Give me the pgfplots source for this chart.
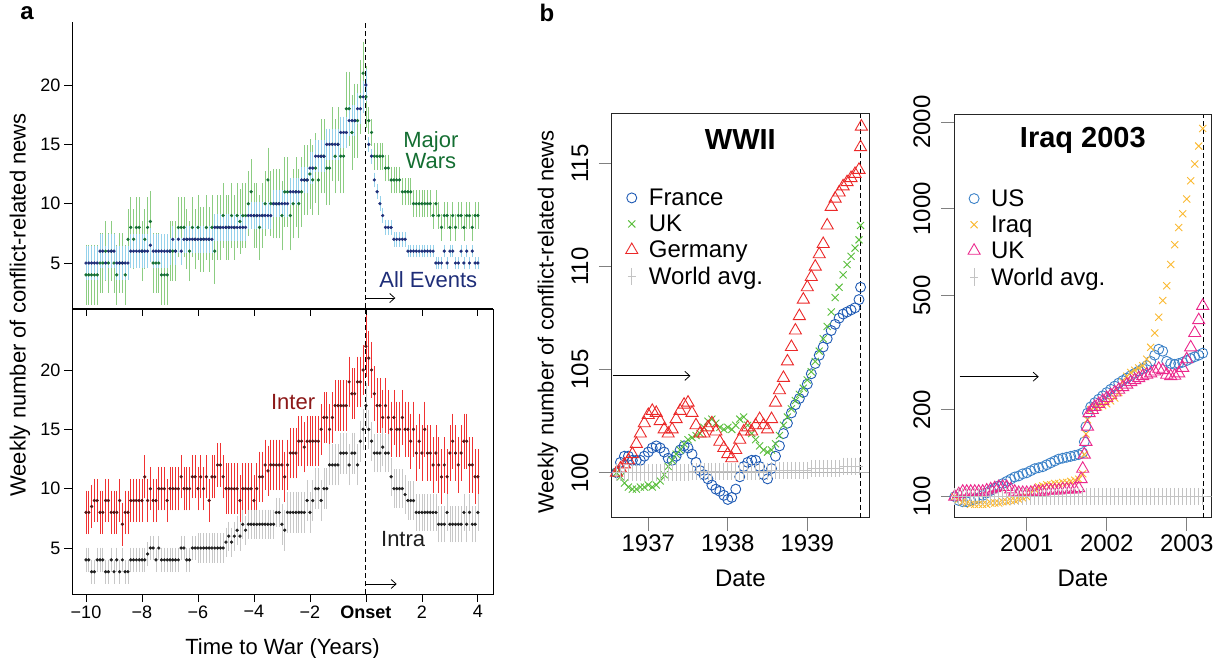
\documentclass[border=0pt]{standalone}
\usepackage{pgfplots}
\pgfplotsset{compat=1.18}
\usepackage{pgfplotstable}
\usepackage{fontspec}
\setmainfont{Liberation Sans}
\usetikzlibrary{arrows.meta}
\definecolor{dkgreen}{RGB}{20,110,50}
\definecolor{ltgreen}{RGB}{140,205,130}
\definecolor{navy}{RGB}{30,45,120}
\definecolor{ltblue}{RGB}{150,210,235}
\definecolor{redbar}{RGB}{240,50,50}
\definecolor{dkred}{RGB}{90,20,20}
\definecolor{intertxt}{RGB}{140,25,25}
\definecolor{greybar}{RGB}{200,200,200}
\definecolor{dotblack}{RGB}{30,30,30}
\definecolor{frblue}{RGB}{30,90,180}
\definecolor{ukgreen}{RGB}{90,190,60}
\definecolor{dered}{RGB}{235,40,40}
\definecolor{wgray}{RGB}{195,195,195}
\definecolor{usblue}{RGB}{60,130,200}
\definecolor{iqorange}{RGB}{250,185,50}
\definecolor{ukpink}{RGB}{235,40,140}
\newcommand{\fs}[1]{\fontsize{#1}{#1}\selectfont}

\pgfplotstableread{
t mw mwe ae aee
-10.0 4 2.4 5 1.3
-9.9 4 2.4 5 1.3
-9.8 4 2.4 5 1.3
-9.7 4 2.4 5 1.3
-9.6 4 2.4 5 1.3
-9.5 5 2.4 6 1.3
-9.4 5 2.4 6 1.3
-9.3 6 2.4 5 1.3
-9.2 5 2.4 6 1.3
-9.1 6 2.4 6 1.3
-9.0 5 2.4 6 1.3
-8.9 4 2.4 5 1.3
-8.8 5 2.4 5 1.3
-8.7 5 2.4 5 1.3
-8.6 4 2.4 5 1.3
-8.5 7 2.4 5 1.3
-8.4 8 2.4 6 1.3
-8.3 7 2.4 6 1.3
-8.2 8 2.4 6 1.3
-8.1 8 2.4 6 1.3
-8.0 6 2.4 6 1.3
-7.9 7 2.4 6 1.3
-7.8 8 2.4 6 1.3
-7.7 8.5 2.4 6.5 1.3
-7.6 5 2.4 6 1.3
-7.5 5 2.4 6 1.3
-7.4 5 2.4 6 1.3
-7.3 4 2.4 6 1.3
-7.2 4 2.4 6 1.3
-7.1 4 2.4 6 1.3
-7.0 6 2.4 6 1.0
-6.9 6 2.4 7 1.0
-6.8 6 2.4 6 1.0
-6.7 8 2.4 7 1.0
-6.6 8 2.4 6 1.0
-6.5 8 2.4 7 1.0
-6.4 7 2.4 7 1.0
-6.3 6 2.4 7 1.0
-6.2 8 2.4 7 1.0
-6.1 7 2.4 7 1.0
-6.0 8 2.6 7 1.0
-5.9 7 2.6 7 1.0
-5.8 7 2.6 7 1.0
-5.7 8 2.6 7 1.0
-5.6 7 2.6 7 1.0
-5.5 8 2.6 7 1.0
-5.4 6 2.6 8 1.0
-5.3 8 2.6 8 1.0
-5.2 8 2.6 8 1.0
-5.1 9 2.6 8 1.0
-5.0 8 2.6 8 1.0
-4.9 8 2.6 8 1.0
-4.8 9 2.6 8 1.0
-4.7 8 2.6 8 1.0
-4.6 9 2.6 8 1.0
-4.5 8.5 2.6 8 1.0
-4.4 9 2.6 8 1.0
-4.3 9 2.6 8 1.0
-4.2 10 2.6 9 1.0
-4.1 11 2.6 9 1.0
-4.0 9 2.6 9 1.0
-3.9 9 2.6 9 1.0
-3.8 8 2.6 9 1.0
-3.7 9 2.6 9 1.0
-3.6 10 2.6 9 1.0
-3.5 12 2.6 9 1.0
-3.4 10 2.6 9 1.0
-3.3 10 2.8 10 1.0
-3.2 10 2.8 10 1.0
-3.1 10 2.8 10 1.0
-3.0 9 2.8 10 1.0
-2.9 11 2.8 10 1.0
-2.8 11 2.8 10 1.0
-2.7 9 2.8 11 1.0
-2.6 10 2.8 11 1.0
-2.5 11 2.8 11 1.0
-2.4 10 2.8 11 1.0
-2.3 11 2.8 12 1.0
-2.2 12 2.8 12 1.0
-2.1 12 2.8 12 1.0
-2.0 12.5 2.8 13 1.2
-1.9 12 2.8 13 1.2
-1.8 13 2.8 14 1.2
-1.7 12 2.8 14 1.2
-1.6 14 3.0 14 1.2
-1.5 14 3.0 14 1.2
-1.4 13 3.0 15 1.2
-1.3 13 3.0 15 1.2
-1.2 15 3.0 15 1.2
-1.1 14 3.0 15 1.2
-1.0 15 3.0 15 1.2
-0.9 14 3.0 16 1.2
-0.8 14 3.0 16 1.2
-0.7 18 3.0 16 1.2
-0.6 18 3.0 17 1.2
-0.5 16 3.0 17 1.2
-0.4 17 3.0 17 1.2
-0.3 17 3.0 18 1.2
-0.2 19 3.0 18 1.2
-0.1 21 2.5 19 1.2
0.0 19 2.5 20 1.2
0.1 17 1.0 15 0.5
0.2 16 1.0 14 0.5
0.3 14 1.0 12 0.5
0.4 14 1.0 11 0.5
0.5 14 1.0 10 0.5
0.6 14 1.0 9 0.5
0.7 13 1.0 8 0.5
0.8 13 1.0 8 0.5
0.9 12 1.0 8 0.5
1.0 12 1.0 7 0.5
1.1 12 1.0 7 0.5
1.2 12 1.0 7 0.5
1.3 11 1.0 7 0.5
1.4 11 1.0 7 0.5
1.5 11 1.0 6 0.4
1.6 11 1.0 6 0.4
1.7 10 1.0 6 0.4
1.8 10 1.0 6 0.4
1.9 10 1.0 6 0.4
2.0 10 1.0 6 0.4
2.1 10 1.0 6 0.4
2.2 10 1.0 6 0.4
2.3 10 1.0 6 0.4
2.4 9 1.0 6 0.4
2.5 10 1.0 5 0.4
2.6 9 1.0 5 0.4
2.7 8 1.0 5 0.4
2.8 9 1.0 6 0.4
2.9 9 1.0 5 0.4
3.0 8 1.0 6 0.4
3.1 9 1.0 6 0.4
3.2 8 1.0 5 0.4
3.3 9 1.0 5 0.4
3.4 9 1.0 6 0.4
3.5 8 1.0 5 0.4
3.6 9 1.0 6 0.4
3.7 9 1.0 5 0.4
3.8 8 1.0 6 0.4
3.9 9 1.0 5 0.4
4.0 9 1.0 5 0.4
}\toptab

\pgfplotstableread{
t inter intere intra intrae
-10.0 8 1.7 4 0.9
-9.9 8 1.7 4 0.9
-9.8 8.5 1.7 3 0.9
-9.7 9 1.7 3 0.9
-9.6 9 1.7 4 0.9
-9.5 8 1.7 4 0.9
-9.4 8 1.7 4 0.9
-9.3 9 1.7 3 0.9
-9.2 9 1.7 3 0.9
-9.1 8 1.7 4 0.9
-9.0 8 1.7 3 0.9
-8.9 8 1.7 4 0.9
-8.8 9 1.7 3 0.9
-8.7 7 1.7 4 0.9
-8.6 8 1.7 3 0.9
-8.5 8 1.7 3 0.9
-8.4 9 1.7 4 0.9
-8.3 9 1.7 4 0.9
-8.2 9 1.7 4 0.9
-8.1 9 1.7 4 0.9
-8.0 9 1.7 4 0.9
-7.9 11 1.7 4 0.9
-7.8 9 1.7 4.5 0.9
-7.7 10 1.7 5 0.9
-7.6 9 1.7 5 0.9
-7.5 9 1.7 4 0.9
-7.4 10 1.7 5 0.9
-7.3 10 1.7 4 0.9
-7.2 10 1.7 4 0.9
-7.1 9 1.7 4 0.9
-7.0 10 1.7 4 0.9
-6.9 10 1.7 4 0.9
-6.8 10 1.7 4 0.9
-6.7 10 1.7 4 0.9
-6.6 11 1.7 5 0.9
-6.5 10 1.7 5 0.9
-6.4 10 1.7 4 0.9
-6.3 10 1.7 4 0.9
-6.2 11 1.7 5 0.9
-6.1 11 1.7 5 0.9
-6.0 10 1.7 5 1.1
-5.9 11 1.7 5 1.1
-5.8 10 1.7 5 1.1
-5.7 11 1.7 5 1.1
-5.6 9 1.7 5 1.1
-5.5 11 1.7 5 1.1
-5.4 11 1.7 5 1.1
-5.3 12 1.7 5 1.1
-5.2 12 1.7 5 1.1
-5.1 11 1.7 5 1.1
-5.0 10 2.0 5.5 1.1
-4.9 10 2.0 6 1.1
-4.8 10 2.0 5.5 1.1
-4.7 10 2.0 6 1.1
-4.6 10 2.0 6.5 1.1
-4.5 9 2.0 6 1.1
-4.4 10 2.0 7 1.1
-4.3 10 2.0 6.5 1.1
-4.2 10 2.0 7 1.1
-4.1 10 2.0 7 1.1
-4.0 9 2.0 7 1.1
-3.9 10 2.0 7 1.1
-3.8 11 2.0 7 1.1
-3.7 11 2.0 7 1.1
-3.6 12 2.0 7 1.1
-3.5 11.5 2.0 7 1.1
-3.4 12 2.0 7 1.1
-3.3 12 2.0 7 1.1
-3.2 12 2.0 8 1.1
-3.1 12 2.0 8 1.1
-3.0 12 2.0 7 1.6
-2.9 11 2.0 6.5 1.6
-2.8 12 2.0 8 1.6
-2.7 13 2.0 8 1.6
-2.6 13 2.0 8 1.6
-2.5 13 2.0 8 1.6
-2.4 14 2.0 8 1.6
-2.3 14 2.0 8 1.6
-2.2 13.5 2.0 8 1.6
-2.1 14 2.0 9 1.6
-2.0 14 2.0 8 1.6
-1.9 14 2.0 9 1.6
-1.8 14 2.0 10 1.6
-1.7 14 2.0 10 1.6
-1.6 15 2.0 9 1.6
-1.5 16 2.0 10 1.6
-1.4 16 2.0 10 1.6
-1.3 15 2.0 12 1.6
-1.2 16 2.0 12 1.6
-1.1 17 2.0 12 1.6
-1.0 17 2.0 12 1.6
-0.9 17 2.0 13 1.6
-0.8 17 2.0 13 1.6
-0.7 17 2.0 13 1.6
-0.6 19 2.0 12 1.6
-0.5 18 2.0 13 1.6
-0.4 18 2.0 13 1.6
-0.3 19 2.0 12 1.6
-0.2 19 2.0 14 1.6
-0.1 20 2.0 15 1.6
0.0 22 2.5 17 1.8
0.1 21 2.2 15 1.5
0.2 20 2.2 14 1.5
0.3 18 2.2 13 1.5
0.4 17 2.2 13 1.5
0.5 17 2.2 13 1.5
0.6 16 2.2 13.5 1.5
0.7 17 2.2 13 1.5
0.8 16 2.2 13 1.5
0.9 15 2.2 11 1.5
1.0 16 2.2 10 1.5
1.1 15 2.2 10 1.5
1.2 15 2.2 10 1.5
1.3 16 2.2 10 1.5
1.4 15 2.2 9.5 1.5
1.5 15 2.2 9 1.5
1.6 14 2.2 9 1.5
1.7 15 2.2 9 1.5
1.8 13 2.2 8 1.4
1.9 14 2.2 8 1.4
2.0 13 2.2 8 1.4
2.1 15 2.2 8 1.4
2.2 13 2.2 8 1.4
2.3 13 2.2 8 1.4
2.4 12 2.2 8 1.4
2.5 13 2.2 8 1.4
2.6 12 2.2 7 1.4
2.7 11 2.2 7 1.4
2.8 12 2.2 7 1.4
2.9 11 2.2 8 1.4
3.0 13 2.2 7 1.4
3.1 14 2.2 7 1.4
3.2 13 2.2 7 1.4
3.3 12 2.2 7 1.4
3.4 13 2.2 7 1.4
3.5 14 2.2 8 1.4
3.6 14 2.2 7 1.4
3.7 12 2.2 8 1.4
3.8 12 2.2 7 1.4
3.9 11 2.2 7 1.4
4.0 11 2.2 8 1.4
}\bottab

\pgfplotsset{
  barsonly/.style={draw=none, mark=none, forget plot,
    error bars/.cd, y dir=both, y explicit,
    error bar style={draw=#1, line width=0.75pt, solid},
    error mark options={draw=#1, mark size=1.5pt, line width=0.75pt}},
  dots/.style={only marks, mark=*, mark size=1.45pt, color=#1, forget plot},
  panelA/.style={scale only axis, anchor=south west, width=421pt,
    xmin=-10.5, xmax=4.54,
    xtick={-10,-8,-6,-4,-2,0,2,4},
    ytick={5,10,15,20}, yticklabels={5,10,15,20},
    tick align=outside, major tick length=8pt,
    tick style={black, line width=0.8pt},
    axis line style={line width=0.8pt},
    yticklabel style={font=\fs{18}, anchor=east},
    xticklabel style={font=\fs{18}}},
  panelB/.style={scale only axis, anchor=south west,
    xtick pos=left, ytick pos=left,
    tick align=outside, major tick length=13pt,
    tick style={gray, line width=1pt},
    axis line style={line width=1pt, black!85},
    yticklabel style={font=\fs{24}, xshift=-7pt, rotate=90, anchor=south},
    xticklabel style={font=\fs{24}, anchor=north},
    xlabel style={font=\fs{24}, yshift=-12pt},
    legend cell align=left,
    legend style={draw=none, fill=none, font=\fs{24}, at={(0.042,0.825)},
      anchor=north west, row sep=4pt,
      /tikz/every odd column/.append style={column sep=9pt}}}
}

\begin{document}
\begin{tikzpicture}
\useasboundingbox (0,0) rectangle (1231pt,658pt);

% ---------- panel a top ----------
\begin{axis}[panelA, at={(72pt,350pt)}, height=286pt,
  ymin=1.21, ymax=25.31,
  axis x line*=bottom, axis y line*=left,
  xticklabels={}]
\addplot[barsonly=ltgreen] table[x=t, y=mw, y error=mwe] {\toptab};
\addplot[barsonly=ltblue] table[x=t, y=ae, y error=aee] {\toptab};
\addplot[dots=dkgreen] table[x=t, y=mw] {\toptab};
\addplot[dots=navy] table[x=t, y=ae] {\toptab};
\draw[black, line width=1.1pt, dash pattern=on 5pt off 3pt] (axis cs:0,1.21) -- (axis cs:0,25.31);
\draw[-{Straight Barb[length=5pt,width=9pt]}, line width=0.8pt] (axis cs:0,2.05) -- (axis cs:1.05,2.05);
\node[font=\fs{22}, text=dkgreen, align=center] at (axis cs:2.32,14.5) {Major\\[-1pt]Wars};
\node[font=\fs{22}, text=navy] at (axis cs:2.23,3.57) {All Events};
\end{axis}

% ---------- panel a bottom ----------
\begin{axis}[panelA, at={(72pt,64pt)}, height=285pt,
  ymin=1.125, ymax=25.14,
  xtick pos=left, ytick pos=left,
  xticklabels={−10,−8,−6,−4,−2,\textbf{Onset},2,4},
  xlabel={Time to War (Years)}, xlabel style={font=\fs{22}, yshift=-13pt}]
\addplot[barsonly=redbar] table[x=t, y=inter, y error=intere] {\bottab};
\addplot[barsonly=greybar] table[x=t, y=intra, y error=intrae] {\bottab};
\addplot[dots=dkred] table[x=t, y=inter] {\bottab};
\addplot[dots=dotblack] table[x=t, y=intra] {\bottab};
\draw[black, line width=1.1pt, dash pattern=on 5pt off 3pt] (axis cs:0,1.125) -- (axis cs:0,25.14);
\draw[-{Straight Barb[length=5pt,width=9pt]}, line width=0.8pt] (axis cs:0,1.97) -- (axis cs:1.1,1.97);
\node[font=\fs{22}, text=intertxt] at (axis cs:-2.6,17.3) {Inter};
\node[font=\fs{22}, text=dotblack] at (axis cs:1.33,5.73) {Intra};
\end{axis}

% ---------- panel b WWII ----------
\begin{axis}[panelB, at={(611.7pt,140pt)}, width=257.3pt, height=404pt,
  xmin=1936.54, xmax=1939.776, ymin=97.8, ymax=117.41,
  xtick={1937,1938,1939}, xticklabels={1937,1938,1939},
  ytick={100,105,110,115}, yticklabels={100,105,110,115},
  xlabel={Date}]
\addplot[gray!60, line width=0.6pt, forget plot] coordinates {(1936.54,100) (1939.776,100)};
\addplot[only marks, mark=o, mark size=5pt, color=frblue, line width=0.9pt] table {
1936.60 100.0
1936.65 100.5
1936.70 100.8
1936.75 100.8
1936.80 100.6
1936.85 100.6
1936.90 100.6
1936.95 100.8
1937.00 101.0
1937.05 101.2
1937.10 101.3
1937.15 101.2
1937.20 101.0
1937.25 100.7
1937.30 100.6
1937.35 100.8
1937.40 101.1
1937.45 101.3
1937.50 101.2
1937.55 100.9
1937.60 100.5
1937.65 100.1
1937.70 99.9
1937.75 99.7
1937.80 99.4
1937.85 99.2
1937.90 99.1
1937.95 98.9
1938.00 98.7
1938.05 98.8
1938.10 99.2
1938.15 99.8
1938.20 100.3
1938.25 100.5
1938.30 100.6
1938.35 100.6
1938.40 100.3
1938.45 99.9
1938.50 99.7
1938.55 100.2
1938.60 100.8
1938.65 101.3
1938.70 101.9
1938.75 102.4
1938.80 102.9
1938.85 103.3
1938.90 103.6
1938.95 103.9
1939.00 104.3
1939.05 104.8
1939.10 105.3
1939.15 105.7
1939.20 106.1
1939.25 106.5
1939.30 106.9
1939.35 107.2
1939.40 107.5
1939.45 107.7
1939.50 107.8
1939.55 107.9
1939.60 108.0
1939.65 108.4
1939.67 109.0
};
\addlegendentry{France}
\addplot[only marks, mark=x, mark size=5pt, color=ukgreen, line width=0.9pt] table {
1936.60 100.0
1936.65 99.8
1936.70 99.5
1936.75 99.3
1936.80 99.2
1936.85 99.2
1936.90 99.3
1936.95 99.3
1937.00 99.4
1937.05 99.3
1937.10 99.4
1937.15 99.6
1937.20 99.9
1937.25 100.3
1937.30 100.6
1937.35 100.9
1937.40 101.1
1937.45 101.4
1937.50 101.6
1937.55 101.7
1937.60 101.8
1937.65 101.9
1937.70 102.2
1937.75 102.5
1937.80 102.6
1937.85 102.4
1937.90 102.2
1937.95 102.1
1938.00 102.2
1938.05 102.1
1938.10 102.3
1938.15 102.6
1938.20 102.7
1938.25 102.3
1938.30 101.9
1938.35 101.6
1938.40 101.3
1938.45 101.1
1938.50 101.0
1938.55 101.1
1938.60 101.4
1938.65 101.8
1938.70 102.3
1938.75 102.7
1938.80 103.1
1938.85 103.5
1938.90 103.8
1938.95 104.1
1939.00 104.5
1939.05 104.9
1939.10 105.4
1939.15 105.9
1939.20 106.5
1939.25 107.1
1939.30 107.8
1939.35 108.5
1939.40 109.0
1939.45 109.6
1939.50 110.1
1939.55 110.5
1939.60 110.9
1939.65 111.3
1939.67 112.0
};
\addlegendentry{UK}
\addplot[only marks, mark=triangle, mark size=7pt, color=dered, line width=0.9pt] table {
1936.60 100.0
1936.65 100.2
1936.70 100.4
1936.75 100.6
1936.80 100.9
1936.85 101.4
1936.90 101.9
1936.95 102.4
1937.00 102.8
1937.05 103.0
1937.10 102.9
1937.15 102.5
1937.20 102.1
1937.25 101.9
1937.30 102.1
1937.35 102.6
1937.40 103.0
1937.45 103.3
1937.50 103.4
1937.55 102.9
1937.60 102.3
1937.65 101.9
1937.70 101.9
1937.75 102.2
1937.80 102.4
1937.85 102.0
1937.90 101.5
1937.95 101.2
1938.00 100.9
1938.05 100.7
1938.10 101.1
1938.15 101.6
1938.20 102.0
1938.25 102.2
1938.30 102.0
1938.35 102.3
1938.40 102.6
1938.45 102.3
1938.50 102.1
1938.55 102.6
1938.60 103.4
1938.65 104.0
1938.70 104.6
1938.75 105.4
1938.80 106.1
1938.85 106.9
1938.90 107.6
1938.95 108.4
1939.00 109.0
1939.05 109.5
1939.10 110.0
1939.15 110.6
1939.20 111.1
1939.25 112.0
1939.30 112.9
1939.35 113.3
1939.40 113.6
1939.45 113.9
1939.50 114.1
1939.55 114.3
1939.60 114.5
1939.65 114.7
1939.67 115.8
1939.68 116.8
};
\addlegendentry{Germany}
\addplot[only marks, mark=+, mark size=4pt, mark options={yscale=2.2}, color=wgray, line width=0.8pt] table {
1936.60 100.0
1936.65 100.0
1936.70 100.0
1936.75 100.0
1936.80 100.0
1936.85 100.0
1936.90 100.0
1936.95 100.0
1937.00 100.0
1937.05 100.0
1937.10 100.0
1937.15 100.0
1937.20 100.0
1937.25 100.0
1937.30 100.0
1937.35 100.0
1937.40 100.0
1937.45 100.0
1937.50 100.0
1937.55 100.05
1937.60 100.05
1937.65 100.05
1937.70 100.05
1937.75 100.05
1937.80 100.05
1937.85 100.05
1937.90 100.05
1937.95 100.05
1938.00 100.05
1938.05 100.05
1938.10 100.05
1938.15 100.05
1938.20 100.05
1938.25 100.05
1938.30 100.05
1938.35 100.05
1938.40 100.05
1938.45 100.05
1938.50 100.05
1938.55 100.1
1938.60 100.1
1938.65 100.1
1938.70 100.1
1938.75 100.1
1938.80 100.1
1938.85 100.1
1938.90 100.1
1938.95 100.1
1939.00 100.1
1939.05 100.2
1939.10 100.2
1939.15 100.2
1939.20 100.2
1939.25 100.2
1939.30 100.2
1939.35 100.2
1939.40 100.2
1939.45 100.3
1939.50 100.3
1939.55 100.3
1939.60 100.3
1939.65 100.3
};
\addlegendentry{World avg.}
\draw[black, line width=1.1pt, dash pattern=on 5pt off 3pt] (axis cs:1939.67,97.8) -- (axis cs:1939.67,117.41);
\draw[-{Straight Barb[length=5pt,width=9pt]}, line width=0.8pt] (axis cs:1936.55,104.7) -- (axis cs:1937.53,104.7);
\node[font=\bfseries\fs{29}] at (axis description cs:0.5,0.936) {WWII};
\end{axis}

% ---------- panel b Iraq ----------
\begin{axis}[panelB, at={(954pt,140pt)}, width=257.7pt, height=403.3pt,
  xmin=2000.091, xmax=2003.3125, ymode=log, ymin=84.3, ymax=2121,
  xtick={2001,2002,2003}, xticklabels={2001,2002,2003},
  ytick={100,200,500,1000,2000}, yticklabels={100,200,500,1000,2000},
  yminorticks=false,
  xlabel={Date}]
\addplot[gray!60, line width=0.6pt, forget plot] coordinates {(2000.091,100) (2003.3125,100)};
\addplot[only marks, mark=o, mark size=5pt, color=usblue, line width=0.9pt] table {
2000.10 100
2000.15 97
2000.20 96
2000.25 96
2000.30 97
2000.35 98
2000.40 99
2000.45 101
2000.50 103
2000.55 105
2000.60 107
2000.65 109
2000.70 111
2000.75 113
2000.80 115
2000.85 117
2000.90 118
2000.95 120
2001.00 121
2001.05 123
2001.10 125
2001.15 126
2001.20 127
2001.25 129
2001.30 131
2001.35 133
2001.40 135
2001.45 136
2001.50 137
2001.55 138
2001.60 139
2001.65 140
2001.70 142
2001.72 155
2001.74 175
2001.76 195
2001.80 205
2001.85 212
2001.90 218
2001.95 224
2002.00 230
2002.05 236
2002.10 242
2002.15 248
2002.20 253
2002.25 258
2002.30 263
2002.35 268
2002.40 273
2002.45 278
2002.50 285
2002.55 295
2002.60 310
2002.65 325
2002.70 320
2002.75 295
2002.80 290
2002.85 288
2002.90 290
2002.95 293
2003.00 297
2003.05 302
2003.10 306
2003.15 310
2003.20 315
};
\addlegendentry{US}
\addplot[only marks, mark=x, mark size=5pt, color=iqorange, line width=0.9pt] table {
2000.10 100
2000.15 98
2000.20 96
2000.25 95
2000.30 94
2000.35 94
2000.40 94
2000.45 94
2000.50 94
2000.55 95
2000.60 95
2000.65 95
2000.70 96
2000.75 96
2000.80 97
2000.85 97
2000.90 98
2000.95 99
2001.00 100
2001.05 103
2001.10 106
2001.15 108
2001.20 109
2001.25 110
2001.30 110
2001.35 111
2001.40 111
2001.45 112
2001.50 112
2001.55 113
2001.60 114
2001.65 115
2001.70 120
2001.72 140
2001.74 165
2001.76 185
2001.80 200
2001.85 205
2001.90 205
2001.95 207
2002.00 210
2002.05 215
2002.10 220
2002.15 230
2002.20 250
2002.25 262
2002.30 270
2002.35 275
2002.40 280
2002.45 285
2002.50 300
2002.55 330
2002.60 370
2002.65 420
2002.70 480
2002.75 540
2002.80 640
2002.85 750
2002.90 860
2002.95 960
2003.00 1080
2003.05 1250
2003.10 1430
2003.15 1650
2003.20 1900
};
\addlegendentry{Iraq}
\addplot[only marks, mark=triangle, mark size=7pt, color=ukpink, line width=0.9pt] table {
2000.10 100
2000.15 102
2000.20 104
2000.25 104
2000.30 104
2000.35 104
2000.40 104
2000.45 104
2000.50 105
2000.55 106
2000.60 107
2000.65 108
2000.70 108
2000.75 108
2000.80 106
2000.85 104
2000.90 103
2000.95 103
2001.00 103
2001.05 103
2001.10 104
2001.15 104
2001.20 104
2001.25 105
2001.30 105
2001.35 105
2001.40 105
2001.45 106
2001.50 106
2001.55 106
2001.60 106
2001.65 107
2001.68 115
2001.70 125
2001.72 140
2001.74 155
2001.76 175
2001.78 195
2001.82 200
2001.85 205
2001.90 210
2001.95 215
2002.00 220
2002.05 225
2002.10 230
2002.15 235
2002.20 240
2002.25 245
2002.30 250
2002.35 254
2002.40 258
2002.45 262
2002.50 265
2002.55 268
2002.60 272
2002.65 278
2002.70 275
2002.75 265
2002.80 262
2002.85 263
2002.90 268
2002.95 280
2003.00 300
2003.05 330
2003.10 370
2003.15 410
2003.20 460
};
\addlegendentry{UK}
\addplot[only marks, mark=+, mark size=4pt, mark options={yscale=2.2}, color=wgray, line width=0.8pt] table {
2000.10 100
2000.15 100
2000.20 100
2000.25 100
2000.30 100
2000.35 100
2000.40 100
2000.45 100
2000.50 100
2000.55 100
2000.60 100
2000.65 100
2000.70 100
2000.75 100
2000.80 100
2000.85 100
2000.90 100
2000.95 100
2001.00 100
2001.05 100
2001.10 100
2001.15 100
2001.20 100
2001.25 100
2001.30 100
2001.35 100
2001.40 100
2001.45 100
2001.50 100
2001.55 100
2001.60 100
2001.65 100
2001.70 100
2001.75 100
2001.80 100
2001.85 100
2001.90 100
2001.95 100
2002.00 100
2002.05 100
2002.10 100
2002.15 100
2002.20 100
2002.25 100
2002.30 100
2002.35 100
2002.40 100
2002.45 100
2002.50 100
2002.55 100
2002.60 100
2002.65 100
2002.70 100
2002.75 100
2002.80 100
2002.85 100
2002.90 100
2002.95 100
2003.00 100
2003.05 100
2003.10 100
2003.15 100
2003.20 100
};
\addlegendentry{World avg.}
\draw[black, line width=1.1pt, dash pattern=on 5pt off 3pt] (axis cs:2003.21,84.3) -- (axis cs:2003.21,2121);
\draw[-{Straight Barb[length=5pt,width=9pt]}, line width=0.8pt] (axis cs:2000.16,261) -- (axis cs:2001.15,261);
\node[font=\bfseries\fs{29}] at (axis description cs:0.5,0.936) {Iraq 2003};
\end{axis}

% ---------- free labels ----------
\node[font=\bfseries\fs{24}] at (27pt,645pt) {a};
\node[font=\bfseries\fs{24}] at (547pt,645pt) {b};
\node[font=\fs{22}, rotate=90] at (20pt,353pt) {Weekly number of conflict-related news};
\node[font=\fs{22}, rotate=90] at (548pt,336pt) {Weekly number of conflict-related news};
\end{tikzpicture}
\end{document}
